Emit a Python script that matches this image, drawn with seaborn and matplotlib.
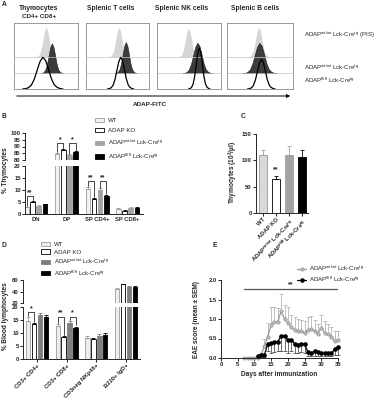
import numpy as np
import pandas as pd
import matplotlib
matplotlib.use("Agg")
import matplotlib.pyplot as plt
from matplotlib.patches import Patch, FancyArrowPatch
from matplotlib.lines import Line2D
import seaborn as sns

sns.set_theme(style="ticks")
plt.rcParams["font.family"] = ["Liberation Sans", "DejaVu Sans"]
plt.rcParams["mathtext.fontset"] = "custom"
plt.rcParams["mathtext.rm"] = "Liberation Sans"
plt.rcParams["mathtext.it"] = "Liberation Sans:italic"
plt.rcParams["mathtext.bf"] = "Liberation Sans:bold"
plt.rcParams["axes.linewidth"] = 0.7

# ---------------- data ----------------
GROUPS = ["WT", "ADAP KO", "ADAP wt/wt Lck-Cre tg", "ADAP fl/fl Lck-Cre tg"]
LEGEND_LABELS = ["WT", "ADAP KO",
                 r"ADAP$^{\mathrm{wt/wt}}$ Lck-Cre$^{\mathrm{tg}}$",
                 r"ADAP$^{\mathrm{fl/fl}}$ Lck-Cre$^{\mathrm{tg}}$"]

# panel A: flow histograms (normalised profile, centre / spread / height per box)
A_TITLES = ["Thymocytes", "Splenic T cells", "Splenic NK cells", "Splenic B cells"]
HIST_PROFILE = [0, 0.01, 0.04, 0.12, 0.3, 0.58, 0.86, 1.0, 0.9, 0.62, 0.32, 0.13, 0.05, 0.015, 0]
a_pis_center = [0.50, 0.52, 0.49, 0.48]
a_pis_step = [0.024, 0.024, 0.024, 0.024]
a_pis_height = [0.45, 0.45, 0.44, 0.45]
a_wt_center = [0.59, 0.63, 0.63, 0.49]
a_wt_step = [0.025, 0.025, 0.033, 0.036]
a_wt_height = [0.45, 0.47, 0.46, 0.46]
a_fl_center = [0.45, 0.55, 0.66, 0.52]
a_fl_step = [0.045, 0.03, 0.024, 0.03]
a_fl_height = [0.48, 0.48, 0.62, 0.45]

# panel B: % thymocytes
b_cats = ["DN", "DP", "SP CD4+", "SP CD8+"]
b_wt = [2.8, 84.2, 10.3, 2.0]
b_wt_err = [0.3, 1.0, 0.9, 0.4]
b_ko = [5.0, 87.3, 6.3, 1.3]
b_ko_err = [0.4, 0.6, 0.4, 0.2]
b_wtcre = [3.5, 83.6, 10.1, 2.7]
b_wtcre_err = [0.3, 0.6, 0.6, 0.3]
b_flcre = [4.0, 85.7, 7.5, 2.5]
b_flcre_err = [0.3, 0.7, 0.5, 0.3]

# panel C: thymocyte counts
c_mean = [110, 65, 110, 106]
c_err = [10, 5, 17, 13]

# panel D: % blood lymphocytes
d_cats = ["CD3+ CD4+", "CD3+ CD8+", "CD3neg NKp46+", "B220+ IgD+"]
d_wt = [14.8, 12.8, 8.0, 44.3]
d_wt_err = [1.3, 0.5, 1.0, 1.5]
d_ko = [13.3, 8.6, 7.7, 52.5]
d_ko_err = [0.4, 0.3, 0.4, 1.2]
d_wtcre = [17.0, 14.0, 8.8, 47.5]
d_wtcre_err = [0.7, 0.6, 0.9, 1.5]
d_flcre = [16.0, 12.0, 9.2, 47.8]
d_flcre_err = [0.8, 0.5, 0.8, 1.8]

# panel E: EAE score
e_days_wt = [7, 8, 9, 10, 11, 12, 13, 14, 15, 16, 17, 18, 19, 20, 21, 22, 23, 24, 25,
             26, 27, 28, 29, 30, 31, 32, 33, 34, 35]
e_wt = [0, 0, 0, 0, 0, 0.08, 0.3, 0.55, 0.85, 0.92, 0.93, 1.2, 1.0, 0.9, 0.8, 0.72, 0.7,
        0.68, 0.65, 0.72, 0.75, 0.68, 0.62, 0.78, 0.65, 0.62, 0.55, 0.43, 0.47]
e_wt_err = [0, 0, 0, 0, 0, 0.05, 0.2, 0.35, 0.45, 0.4, 0.35, 0.45, 0.35, 0.4, 0.3, 0.32,
            0.3, 0.3, 0.3, 0.32, 0.33, 0.3, 0.25, 0.32, 0.3, 0.25, 0.25, 0.25, 0.22]
e_days_fl = [11, 12, 13, 14, 15, 16, 17, 18, 19, 20, 21, 22, 23, 24, 25, 26, 27, 28, 29,
             30, 31, 32, 33, 34, 35]
e_fl = [0.05, 0.08, 0.08, 0.37, 0.38, 0.4, 0.42, 0.57, 0.57, 0.47, 0.47, 0.37, 0.33, 0.35,
        0.36, 0.15, 0.12, 0.18, 0.15, 0.12, 0.12, 0.12, 0.12, 0.22, 0.28]
e_fl_err = [0.03, 0.05, 0.05, 0.2, 0.25, 0.25, 0.25, 0.4, 0.4, 0.35, 0.3, 0.25, 0.2, 0.2,
            0.22, 0.1, 0.08, 0.12, 0.1, 0.08, 0.08, 0.08, 0.08, 0.15, 0.2]

# ---------------- layout helpers ----------------
W, H = 376, 400
fig = plt.figure(figsize=(W / 100, H / 100), dpi=100)
TICK_FS = 4.2
LAB_FS = 4.7
LEG_FS = 4.4


def box(x0, y0, x1, y1):
    return fig.add_axes([x0 / W, 1 - y1 / H, (x1 - x0) / W, (y1 - y0) / H])


def ftext(x, y, s, **kw):
    kw.setdefault("ha", "center")
    kw.setdefault("va", "center")
    kw.setdefault("fontsize", LAB_FS)
    kw.setdefault("fontweight", "bold")
    fig.text(x / W, 1 - y / H, s, **kw)


def style_axis(ax, bottom=True):
    sns.despine(ax=ax)
    ax.spines["bottom"].set_visible(bottom)
    ax.tick_params(axis="both", length=2, width=0.6, pad=1, labelsize=TICK_FS, color="black")
    for lab in ax.get_yticklabels() + ax.get_xticklabels():
        lab.set_fontweight("bold")
    ax.set_xlabel("")
    ax.set_ylabel("")
    ax.set_facecolor("none")


def grouped_bars(ax, cats, series, errs, faces, edges, gap=0.25):
    rows = []
    for g, vals in zip(GROUPS, series):
        for c, v in zip(cats, vals):
            rows.append({"cat": c, "grp": g, "val": v})
    df = pd.DataFrame(rows)
    sns.barplot(data=df, x="cat", y="val", hue="grp", order=cats, hue_order=GROUPS,
                palette=dict(zip(GROUPS, faces)), saturation=1, errorbar=None,
                width=0.8, gap=gap, linewidth=0.6, legend=False, ax=ax)
    for cont, ec, err in zip(ax.containers, edges, errs):
        xs, ys = [], []
        for p in cont:
            p.set_edgecolor(ec)
            xs.append(p.get_x() + p.get_width() / 2)
            ys.append(p.get_height())
        ax.errorbar(xs, ys, yerr=[np.zeros(len(err)), err], fmt="none", ecolor=ec,
                    elinewidth=0.6, capsize=1.2, capthick=0.6)


def bracket(ax, x1, x2, y1, y2, y, txt):
    ax.plot([x1, x1, x2, x2], [y1, y, y, y2], color="black", lw=0.5, clip_on=False)
    ax.text((x1 + x2) / 2, y, txt, ha="center", va="bottom", fontsize=5,
            fontweight="bold", clip_on=False)


OFF = [-0.3, -0.1, 0.1, 0.3]

# ---------------- panel A ----------------
ftext(4, 5, "A", fontsize=4.8)
A_BOX_X = [(14, 78), (86, 149), (157, 221), (227, 293)]
A_TITLE_X = [39, 111, 182, 255]
prof = np.array(HIST_PROFILE)
steps = np.arange(len(prof)) - (len(prof) - 1) / 2
for i, (x0, x1) in enumerate(A_BOX_X):
    ax = box(x0, 23, x1, 89)
    ax.set_xlim(0, 1)
    ax.set_ylim(0, 1)
    ax.axhline(0.485, color="#c4c4c4", lw=0.5)
    ax.axhline(0.24, color="#c4c4c4", lw=0.5)
    xs = a_pis_center[i] + steps * a_pis_step[i]
    ax.fill_between(xs, 0.485, 0.485 + a_pis_height[i] * prof, color="#d6d6d6", lw=0)
    xs = a_wt_center[i] + steps * a_wt_step[i]
    ax.fill_between(xs, 0.24, 0.24 + a_wt_height[i] * prof, facecolor="#3c3c3c",
                    edgecolor="#1a1a1a", lw=0.4)
    xs = a_fl_center[i] + steps * a_fl_step[i]
    ax.plot(xs, 0.0 + a_fl_height[i] * prof, color="black", lw=0.9)
    ax.set_xticks([])
    ax.set_yticks([])
    for s in ax.spines.values():
        s.set_visible(True)
        s.set_color("#8a8a8a")
        s.set_linewidth(0.6)
    ftext(A_TITLE_X[i], 9, A_TITLES[i], fontsize=4.9)
ftext(39, 16, "CD4+ CD8+", fontsize=4.5)
ftext(304, 35, r"ADAP$^{\mathrm{wt/wt}}$ Lck-Cre$^{\mathrm{tg}}$ (PIS)", ha="left",
      fontsize=4.4, fontweight="normal")
ftext(304, 67, r"ADAP$^{\mathrm{wt/wt}}$ Lck-Cre$^{\mathrm{tg}}$", ha="left",
      fontsize=4.4, fontweight="normal")
ftext(304, 80, r"ADAP$^{\mathrm{fl/fl}}$ Lck-Cre$^{\mathrm{tg}}$", ha="left",
      fontsize=4.4, fontweight="normal")
fig.add_artist(FancyArrowPatch((14 / W, 1 - 96 / H), (293 / W, 1 - 96 / H),
                               transform=fig.transFigure, arrowstyle="-|>",
                               mutation_scale=5, lw=0.7, color="black"))
ftext(150, 104, "ADAP-FITC", fontsize=4.6)

# ---------------- panel B ----------------
ftext(4, 117, "B", fontsize=4.8)
b_faces = ["#f2f2f2", "white", "#a3a3a3", "black"]
b_edges = ["#9c9c9c", "black", "#a3a3a3", "black"]
b_series = [b_wt, b_ko, b_wtcre, b_flcre]
b_errs = [b_wt_err, b_ko_err, b_wtcre_err, b_flcre_err]
axt = box(25, 133, 143, 160)
axb = box(25, 166, 143, 214)
for ax in (axt, axb):
    grouped_bars(ax, b_cats, b_series, b_errs, b_faces, b_edges)
    ax.set_xlim(-0.35, 3.5)
axt.set_ylim(80, 100)
axt.set_yticks([80, 85, 90, 95, 100])
axt.set_xticks([])
style_axis(axt, bottom=False)
axb.set_ylim(0, 20)
axb.set_yticks([0, 5, 10, 15, 20])
style_axis(axb)
axb.tick_params(axis="x", length=0, pad=2)
bracket(axb, OFF[0], OFF[1], 3.5, 5.8, 7.5, "**")
bracket(axt, 1 + OFF[0], 1 + OFF[1], 85.6, 88.3, 92.5, "*")
bracket(axt, 1 + OFF[2], 1 + OFF[3], 84.6, 86.8, 92.5, "*")
bracket(axb, 2 + OFF[0], 2 + OFF[1], 11.5, 7.0, 13.8, "**")
bracket(axb, 2 + OFF[2], 2 + OFF[3], 11.0, 8.3, 13.8, "**")
ftext(6, 170, "% Thymocytes", rotation=90)
b_handles = [Patch(facecolor=f, edgecolor=e, lw=0.6, label=l)
             for f, e, l in zip(b_faces, b_edges, LEGEND_LABELS)]
fig.legend(handles=b_handles, loc="upper left", bbox_to_anchor=(95 / W, 1 - 118 / H),
           frameon=False, fontsize=LEG_FS, handlelength=1.4, handleheight=0.7,
           handletextpad=0.7, labelspacing=0.75, borderpad=0, borderaxespad=0)

# ---------------- panel C ----------------
ftext(243, 117, "C", fontsize=4.8)
axc = box(256, 134, 308, 213)
dfc = pd.DataFrame({"grp": GROUPS, "val": c_mean})
c_faces = ["#d9d9d9", "white", "#a3a3a3", "black"]
c_edges = ["#9c9c9c", "black", "#a3a3a3", "black"]
sns.barplot(data=dfc, x="grp", y="val", hue="grp", order=GROUPS, hue_order=GROUPS,
            palette=dict(zip(GROUPS, c_faces)), saturation=1, errorbar=None, width=0.62,
            linewidth=0.6, legend=False, dodge=False, ax=axc)
for cont, ec in zip(axc.containers, c_edges):
    for p in cont:
        p.set_edgecolor(ec)
for i, ec in enumerate(c_edges):
    axc.errorbar([i], [c_mean[i]], yerr=[[0], [c_err[i]]], fmt="none", ecolor=ec,
                 elinewidth=0.6, capsize=1.5, capthick=0.6)
axc.set_xlim(-0.54, 3.46)
axc.set_ylim(0, 150)
axc.set_yticks([0, 50, 100, 150])
axc.text(1, 76, "**", ha="center", va="bottom", fontsize=5, fontweight="bold")
style_axis(axc)
axc.set_xticks(range(4))
axc.set_xticklabels(["WT", "ADAP KO",
                     r"ADAP$^{\mathbf{wt/wt}}$ Lck-Cre$^{\mathbf{tg}}$",
                     r"ADAP$^{\mathbf{fl/fl}}$ Lck-Cre$^{\mathbf{tg}}$"],
                    rotation=45, ha="right", rotation_mode="anchor",
                    fontsize=TICK_FS, fontweight="bold")
ftext(233, 172, r"Thymocytes (10$^{\mathbf{3}}$/µl)", rotation=90)

# ---------------- panel D ----------------
ftext(4, 245, "D", fontsize=4.8)
d_faces = ["#ededed", "white", "#7f7f7f", "black"]
d_edges = ["#9c9c9c", "black", "#7f7f7f", "black"]
d_series = [d_wt, d_ko, d_wtcre, d_flcre]
d_errs = [d_wt_err, d_ko_err, d_wtcre_err, d_flcre_err]
adt = box(23, 280, 140, 303)
adb = box(23, 307, 140, 359)
for ax in (adt, adb):
    grouped_bars(ax, d_cats, d_series, d_errs, d_faces, d_edges)
    ax.set_xlim(-0.47, 3.47)
adt.set_ylim(20, 60)
adt.set_yticks([20, 40, 60])
adt.set_xticks([])
style_axis(adt, bottom=False)
adb.set_ylim(0, 20)
adb.set_yticks([0, 5, 10, 15, 20])
style_axis(adb)
adb.set_xticks(range(4))
adb.set_xticklabels(d_cats, rotation=45, ha="right", rotation_mode="anchor",
                    fontsize=TICK_FS, fontweight="bold")
bracket(adb, OFF[0], OFF[1], 16.6, 14.2, 18.0, "*")
bracket(adb, 1 + OFF[0], 1 + OFF[1], 13.8, 9.4, 16.3, "**")
bracket(adb, 1 + OFF[2], 1 + OFF[3], 15.1, 13.0, 16.3, "*")
ftext(6, 316, "% Blood lymphocytes", rotation=90)
d_handles = [Patch(facecolor=f, edgecolor=e, lw=0.6, label=l)
             for f, e, l in zip(d_faces, d_edges, LEGEND_LABELS)]
fig.legend(handles=d_handles, loc="upper left", bbox_to_anchor=(41 / W, 1 - 242 / H),
           frameon=False, fontsize=LEG_FS, handlelength=1.4, handleheight=0.7,
           handletextpad=0.7, labelspacing=0.35, borderpad=0, borderaxespad=0)

# ---------------- panel E ----------------
ftext(215, 245, "E", fontsize=4.8)
axe = box(221, 280, 338, 358)
dfe_wt = pd.DataFrame({"day": e_days_wt, "score": e_wt})
dfe_fl = pd.DataFrame({"day": e_days_fl, "score": e_fl})
axe.errorbar(e_days_wt, e_wt, yerr=[np.zeros(len(e_wt)), e_wt_err], fmt="none",
             ecolor="#a8a8a8", elinewidth=0.5, capsize=1.2, capthick=0.5, clip_on=False)
axe.errorbar(e_days_fl, e_fl, yerr=[e_fl_err, np.zeros(len(e_fl))], fmt="none",
             ecolor="#333333", elinewidth=0.5, capsize=1.2, capthick=0.5, clip_on=False)
sns.lineplot(data=dfe_wt, x="day", y="score", color="#9a9a9a", lw=0.9, marker="o",
             markersize=2.4, markeredgecolor="#8a8a8a", markerfacecolor="#bdbdbd",
             markeredgewidth=0.4, ax=axe, clip_on=False)
sns.lineplot(data=dfe_fl, x="day", y="score", color="black", lw=0.9, marker="o",
             markersize=3.3, markeredgewidth=0, ax=axe, clip_on=False)
axe.plot([7, 35], [1.77, 1.77], color="#555555", lw=0.9)
axe.text(21, 1.78, "**", ha="center", va="bottom", fontsize=5, fontweight="bold")
axe.set_xlim(0, 35)
axe.set_ylim(0, 2.0)
axe.set_xticks(range(0, 36, 5))
axe.set_yticks([0.0, 0.5, 1.0, 1.5, 2.0])
axe.set_yticklabels(["0.0", "0.5", "1.0", "1.5", "2.0"])
style_axis(axe)
ftext(279, 374, "Days after immunization")
ftext(197, 319, "EAE score (mean ± SEM)", rotation=90)
e_handles = [Line2D([], [], color="#9a9a9a", lw=0.9, marker="o", markersize=2.4,
                    markerfacecolor="#bdbdbd", markeredgecolor="#8a8a8a",
                    markeredgewidth=0.4, label=LEGEND_LABELS[2]),
             Line2D([], [], color="black", lw=0.9, marker="o", markersize=3.3,
                    markeredgewidth=0, label=LEGEND_LABELS[3])]
fig.legend(handles=e_handles, loc="upper left", bbox_to_anchor=(297 / W, 1 - 264 / H),
           frameon=False, fontsize=LEG_FS, handlelength=1.5, handletextpad=0.5,
           labelspacing=0.3, borderpad=0, borderaxespad=0)

fig.savefig("out.png", dpi=100)
